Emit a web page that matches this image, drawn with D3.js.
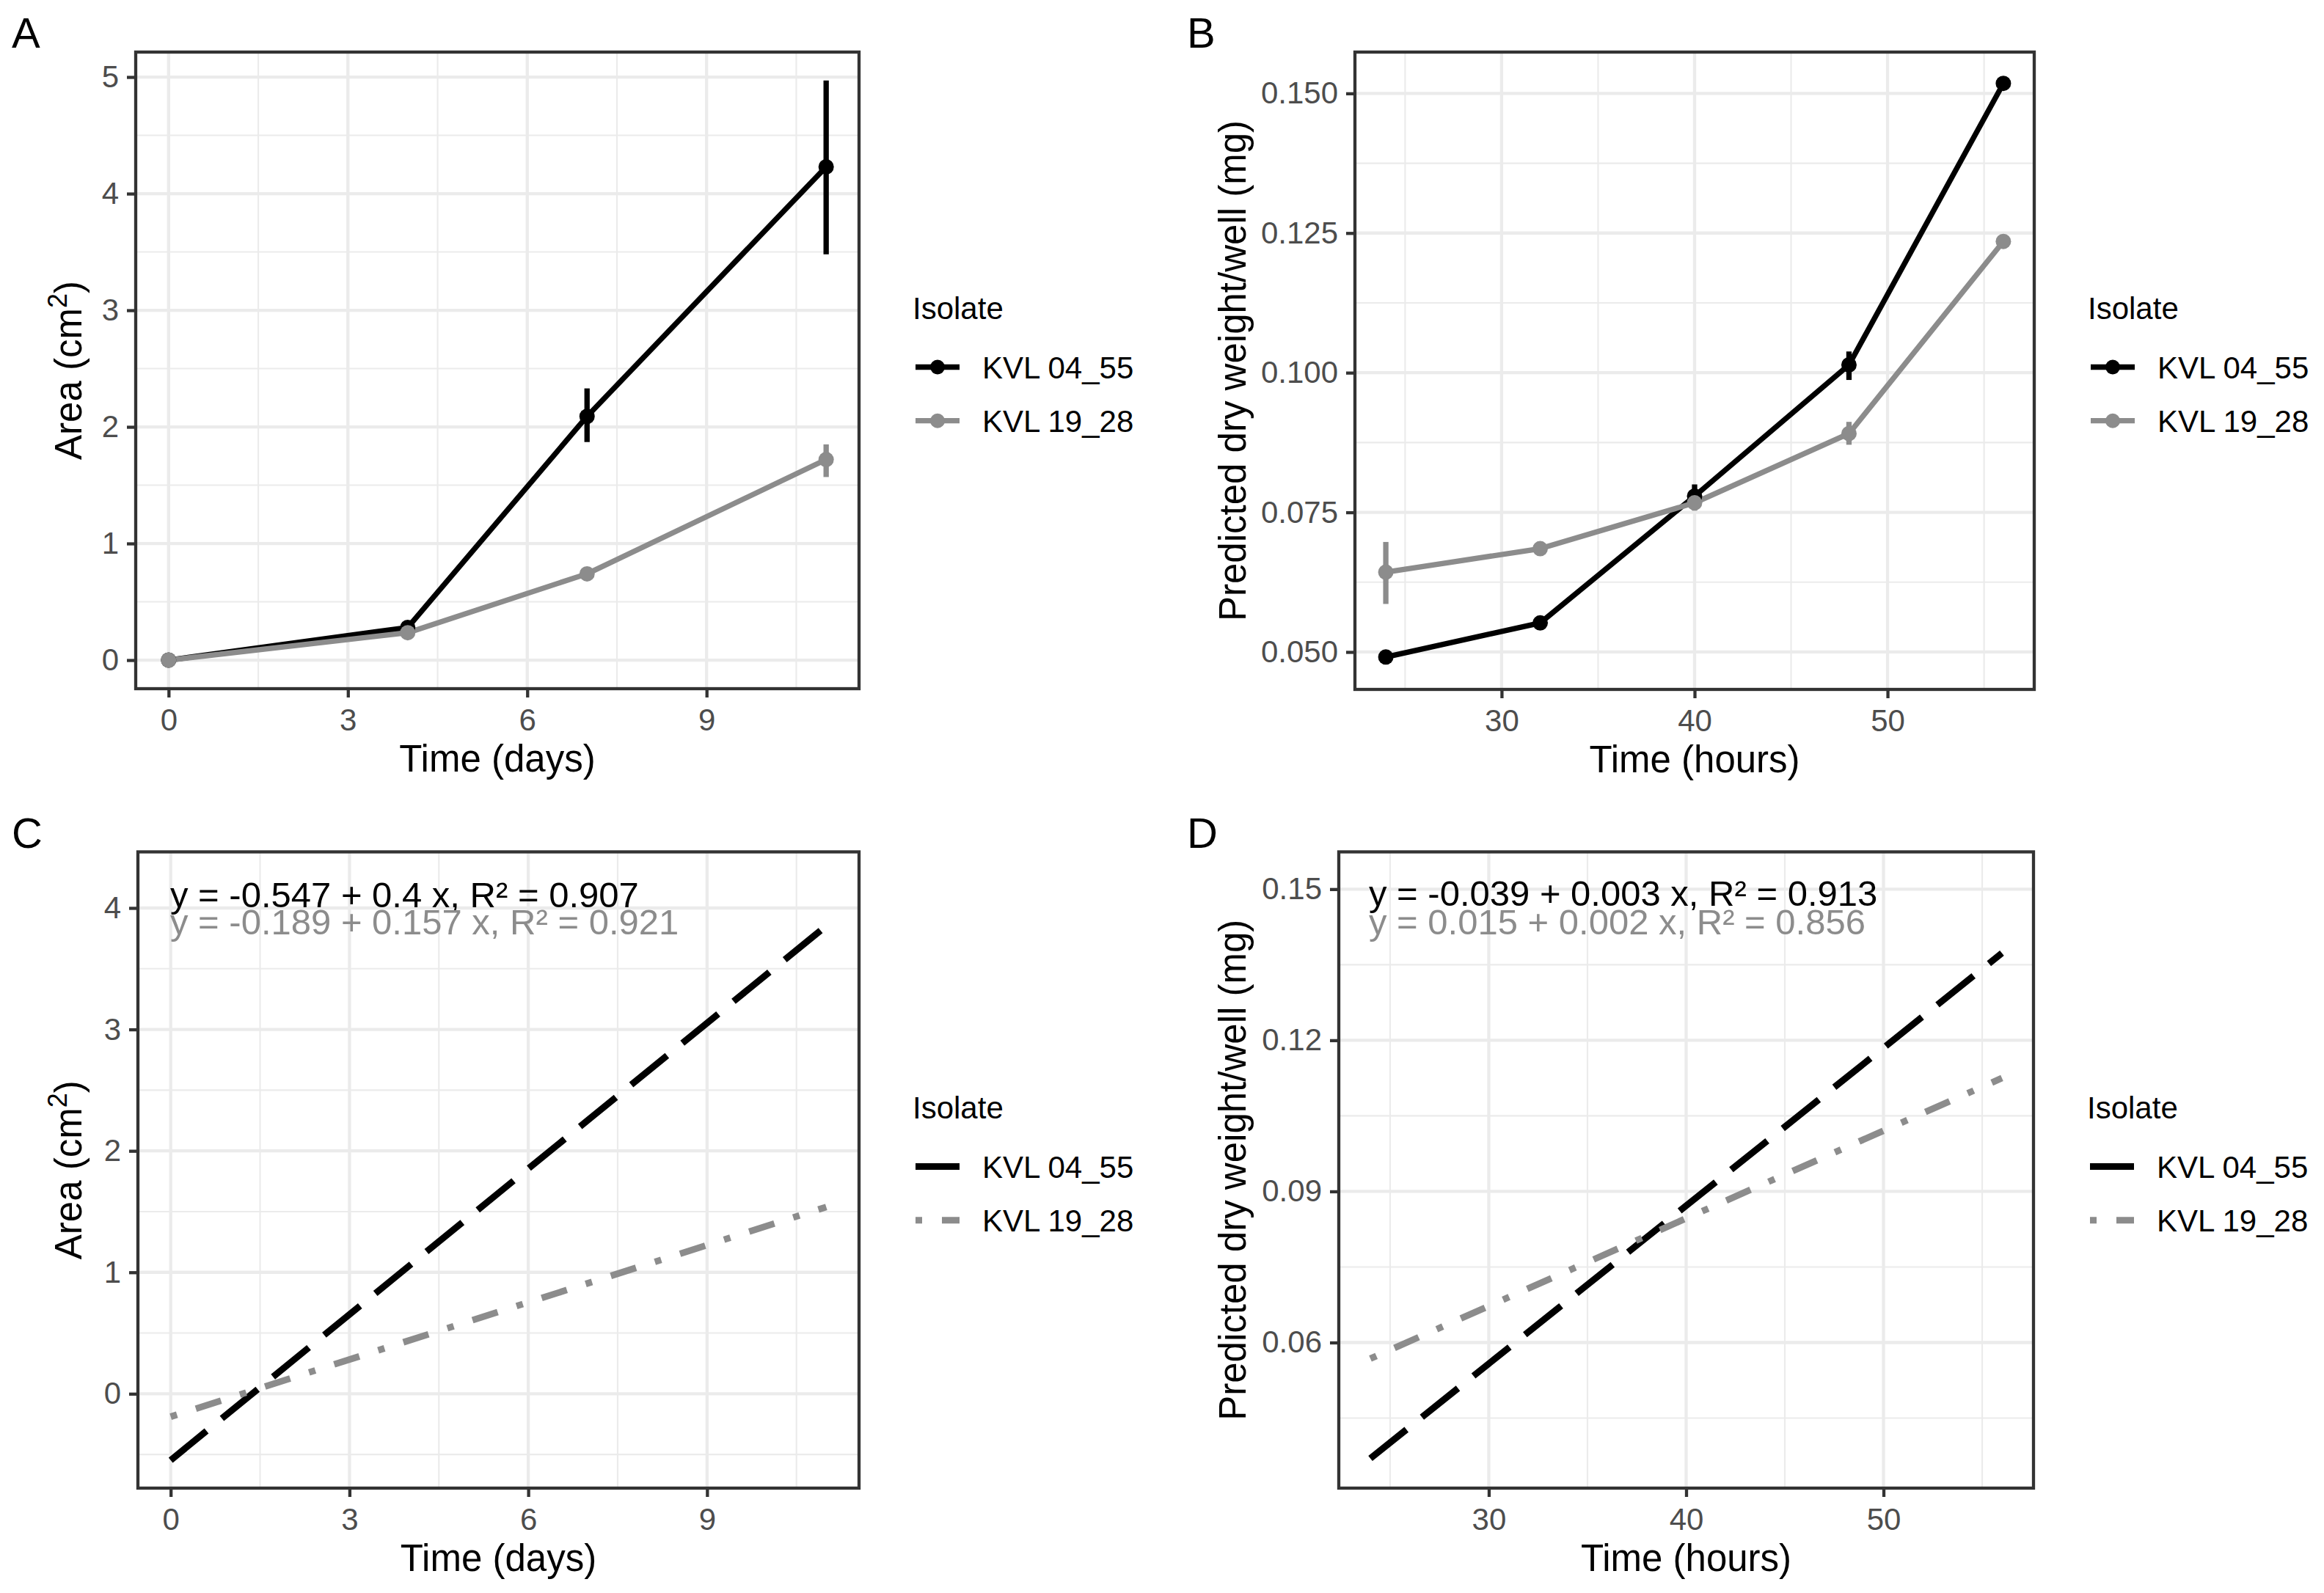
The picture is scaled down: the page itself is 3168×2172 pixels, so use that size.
<!DOCTYPE html>
<html>
<head>
<meta charset="utf-8">
<script src="https://cdn.jsdelivr.net/npm/d3@7"></script>
<style>
  body { margin: 0; background: #fff; }
  text { font-family: "Liberation Sans", Arial, Helvetica, sans-serif; }
</style>
</head>
<body>
<script>
const isolates = ["KVL 04_55", "KVL 19_28"];
const colours = ["#000000", "#8C8C8C"];

// panel A : area over days
const days = [0, 4, 7, 11];
const area0455 = [0, 0.28, 2.09, 4.23];
const area0455Lo = [0, 0.25, 1.87, 3.48];
const area0455Hi = [0, 0.31, 2.33, 4.97];
const area1928 = [0, 0.235, 0.74, 1.72];
const area1928Lo = [0, 0.215, 0.71, 1.57];
const area1928Hi = [0, 0.255, 0.77, 1.85];

// panel B : predicted dry weight over hours
const hours = [24, 32, 40, 48, 56];
const dw0455 = [0.0491, 0.0552, 0.0779, 0.1014, 0.1518];
const dw0455Lo = [0.0485, 0.0546, 0.0763, 0.0987, 0.1512];
const dw0455Hi = [0.0497, 0.0558, 0.0800, 0.1038, 0.1524];
const dw1928 = [0.0643, 0.0685, 0.0767, 0.0891, 0.1235];
const dw1928Lo = [0.0586, 0.0680, 0.0753, 0.0871, 0.1230];
const dw1928Hi = [0.0697, 0.0690, 0.0778, 0.0912, 0.1240];

// panels C and D : fitted lines (start and end of each fit)
const fitDays = [0, 11];
const fitArea0455 = [-0.547, 3.853];
const fitArea1928 = [-0.189, 1.538];
const fitHours = [24, 56];
const fitDw0455 = [0.0370, 0.1373];
const fitDw1928 = [0.0568, 0.1125];
const eqArea = ["y = -0.547 + 0.4 x, R\u00B2 = 0.907", "y = -0.189 + 0.157 x, R\u00B2 = 0.921"];
const eqDw = ["y = -0.039 + 0.003 x, R\u00B2 = 0.913", "y = 0.015 + 0.002 x, R\u00B2 = 0.856"];

// ticks
const dayTicks = [0, 3, 6, 9];
const hourTicks = [30, 40, 50];
const areaTicksA = [0, 1, 2, 3, 4, 5];
const dwTicksB = [0.050, 0.075, 0.100, 0.125, 0.150];
const areaTicksC = [0, 1, 2, 3, 4];
const dwTicksD = [0.06, 0.09, 0.12, 0.15];

const W = 3168, H = 2172;
const LW = 4.3;
const svg = d3.select("body").append("svg")
  .attr("width", W).attr("height", H)
  .style("display", "block");
svg.append("rect").attr("width", W).attr("height", H).attr("fill", "#fff");

function minors(ticks, domain) {
  const step = ticks[1] - ticks[0];
  const out = [ticks[0] - step / 2].concat(ticks.map(t => t + step / 2));
  return out.filter(v => v > domain[0] && v < domain[1]);
}

function panel(p) {
  const x = d3.scaleLinear().domain(p.xDomain).range([p.left, p.right]);
  const y = d3.scaleLinear().domain(p.yDomain).range([p.bottom, p.top]);
  const g = svg.append("g");

  // grid
  const grid = g.append("g").attr("stroke", "#EBEBEB");
  grid.selectAll(".xm").data(minors(p.xTicks, p.xDomain)).join("line")
    .attr("x1", d => x(d)).attr("x2", d => x(d))
    .attr("y1", p.top).attr("y2", p.bottom).attr("stroke-width", LW / 2);
  grid.selectAll(".ym").data(minors(p.yTicks, p.yDomain)).join("line")
    .attr("y1", d => y(d)).attr("y2", d => y(d))
    .attr("x1", p.left).attr("x2", p.right).attr("stroke-width", LW / 2);
  grid.selectAll(".xM").data(p.xTicks).join("line")
    .attr("x1", d => x(d)).attr("x2", d => x(d))
    .attr("y1", p.top).attr("y2", p.bottom).attr("stroke-width", LW);
  grid.selectAll(".yM").data(p.yTicks).join("line")
    .attr("y1", d => y(d)).attr("y2", d => y(d))
    .attr("x1", p.left).attr("x2", p.right).attr("stroke-width", LW);

  const plot = g.append("g");
  p.draw(plot, x, y);

  // border
  g.append("rect")
    .attr("x", p.left).attr("y", p.top)
    .attr("width", p.right - p.left).attr("height", p.bottom - p.top)
    .attr("fill", "none").attr("stroke", "#333333").attr("stroke-width", LW);

  // axes
  const xa = g.append("g").attr("transform", `translate(0,${p.bottom})`)
    .call(d3.axisBottom(x).tickValues(p.xTicks).tickSize(12).tickPadding(15).tickFormat(d3.format("d")));
  const ya = g.append("g").attr("transform", `translate(${p.left},0)`)
    .call(d3.axisLeft(y).tickValues(p.yTicks).tickSize(12).tickPadding(11).tickFormat(p.yFormat));
  [xa, ya].forEach(a => {
    a.select(".domain").remove();
    a.attr("font-family", null).attr("font-size", 42);
    a.selectAll("line").attr("stroke", "#333333").attr("stroke-width", LW);
    a.selectAll("text").attr("fill", "#4D4D4D");
  });

  // axis titles
  g.append("text")
    .attr("x", (p.left + p.right) / 2).attr("y", p.bottom + 113)
    .attr("text-anchor", "middle").attr("font-size", 51).attr("fill", "#000")
    .text(p.xTitle);
  const yt = g.append("text")
    .attr("transform", `translate(${p.yTitleX},${(p.top + p.bottom) / 2}) rotate(-90)`)
    .attr("text-anchor", "middle").attr("font-size", 51).attr("fill", "#000");
  if (p.yTitle === "area") {
    yt.append("tspan").text("Area (cm");
    yt.append("tspan").attr("dy", -20).attr("font-size", 36).text("2");
    yt.append("tspan").attr("dy", 20).text(")");
  } else {
    yt.text(p.yTitle);
  }

  // panel tag
  svg.append("text")
    .attr("x", p.tagX).attr("y", p.tagY)
    .attr("font-size", 58).attr("fill", "#000").text(p.tag);

  // legend
  const lx = p.right + 77;
  const lg = svg.append("g");
  lg.append("text").attr("x", lx - 4).attr("y", p.legendY)
    .attr("font-size", 42).attr("fill", "#000").text("Isolate");
  isolates.forEach((name, i) => {
    const ky = p.legendY + 65.5 + i * 73.2;
    p.key(lg, lx, ky, i);
    lg.append("text").attr("x", lx + 91).attr("y", ky).attr("dy", "0.36em")
      .attr("font-size", 42).attr("fill", "#000").text(name);
  });
}

function drawMeans(xs, series) {
  return (g, x, y) => {
    const line = d3.line().x((d, i) => x(xs[i])).y(d => y(d));
    series.forEach((s, i) => {
      g.append("path").datum(s.mean).attr("d", line)
        .attr("fill", "none").attr("stroke", colours[i])
        .attr("stroke-width", 7.3).attr("stroke-linejoin", "round");
    });
    series.forEach((s, i) => {
      g.selectAll(null).data(s.mean).join("line")
        .attr("x1", (d, j) => x(xs[j])).attr("x2", (d, j) => x(xs[j]))
        .attr("y1", (d, j) => y(s.lo[j])).attr("y2", (d, j) => y(s.hi[j]))
        .attr("stroke", colours[i]).attr("stroke-width", 7.3);
      g.selectAll(null).data(s.mean).join("circle")
        .attr("cx", (d, j) => x(xs[j])).attr("cy", d => y(d))
        .attr("r", 10.5).attr("fill", colours[i]);
    });
  };
}

const dashes = ["63,27", "9,27,36,27"];

function drawFits(xs, fits, eqs, eqX, eqY) {
  return (g, x, y) => {
    const line = d3.line().x((d, i) => x(xs[i])).y(d => y(d));
    fits.forEach((f, i) => {
      g.append("path").datum(f).attr("d", line)
        .attr("fill", "none").attr("stroke", colours[i])
        .attr("stroke-width", 9).attr("stroke-dasharray", dashes[i])
        .attr("stroke-linecap", "butt");
    });
    eqs.forEach((t, i) => {
      g.append("text").attr("x", eqX).attr("y", eqY[i])
        .attr("font-size", 49).attr("fill", colours[i]).text(t);
    });
  };
}

function pointKey(g, lx, ky, i) {
  g.append("line").attr("x1", lx).attr("x2", lx + 60).attr("y1", ky).attr("y2", ky)
    .attr("stroke", colours[i]).attr("stroke-width", 7.3);
  g.append("circle").attr("cx", lx + 30).attr("cy", ky).attr("r", 10).attr("fill", colours[i]);
}

function dashKey(g, lx, ky, i) {
  g.append("line").attr("x1", lx).attr("x2", lx + 60).attr("y1", ky).attr("y2", ky)
    .attr("stroke", colours[i]).attr("stroke-width", 9)
    .attr("stroke-dasharray", dashes[i]).attr("stroke-linecap", "butt");
}

panel({
  tag: "A", tagX: 16, tagY: 65,
  left: 185, right: 1171, top: 71, bottom: 939,
  xDomain: [-0.55, 11.55], yDomain: [-0.245, 5.214],
  xTicks: dayTicks, yTicks: areaTicksA, yFormat: d3.format("d"),
  xTitle: "Time (days)", yTitle: "area", yTitleX: 111,
  legendY: 435, key: pointKey,
  draw: drawMeans(days, [
    { mean: area0455, lo: area0455Lo, hi: area0455Hi },
    { mean: area1928, lo: area1928Lo, hi: area1928Hi }
  ])
});

panel({
  tag: "B", tagX: 1618, tagY: 65,
  left: 1847, right: 2773, top: 71, bottom: 940,
  xDomain: [22.4, 57.6], yDomain: [0.0433, 0.1574],
  xTicks: hourTicks, yTicks: dwTicksB, yFormat: d3.format(".3f"),
  xTitle: "Time (hours)", yTitle: "Predicted dry weight/well (mg)", yTitleX: 1698,
  legendY: 435, key: pointKey,
  draw: drawMeans(hours, [
    { mean: dw0455, lo: dw0455Lo, hi: dw0455Hi },
    { mean: dw1928, lo: dw1928Lo, hi: dw1928Hi }
  ])
});

panel({
  tag: "C", tagX: 16, tagY: 1156,
  left: 188, right: 1171, top: 1161.5, bottom: 2029,
  xDomain: [-0.55, 11.55], yDomain: [-0.777, 4.462],
  xTicks: dayTicks, yTicks: areaTicksC, yFormat: d3.format("d"),
  xTitle: "Time (days)", yTitle: "area", yTitleX: 111,
  legendY: 1525, key: dashKey,
  draw: drawFits(fitDays, [fitArea0455, fitArea1928], eqArea, 232, [1237, 1274])
});

panel({
  tag: "D", tagX: 1618, tagY: 1156,
  left: 1825, right: 2772, top: 1161.5, bottom: 2029,
  xDomain: [22.4, 57.6], yDomain: [0.0311, 0.1574],
  xTicks: hourTicks, yTicks: dwTicksD, yFormat: d3.format(".2f"),
  xTitle: "Time (hours)", yTitle: "Predicted dry weight/well (mg)", yTitleX: 1698,
  legendY: 1525, key: dashKey,
  draw: drawFits(fitHours, [fitDw0455, fitDw1928], eqDw, 1866, [1235, 1274])
});
</script>
</body>
</html>
